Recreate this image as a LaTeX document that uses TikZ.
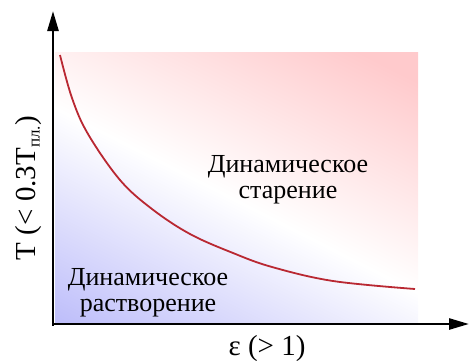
\documentclass[tikz,border=0pt]{standalone}
\usepackage{fontspec}
\setmainfont{Liberation Serif}
\newfontfamily\lserif{Liberation Serif}
\usetikzlibrary{arrows.meta}
\definecolor{pinkc}{RGB}{255,202,204}
\definecolor{bluec}{RGB}{190,190,250}
\definecolor{curvec}{RGB}{185,40,50}
\tikzset{
  axisline/.style={line width=2.6pt, -{Triangle[length=20pt,width=11pt]}},
  regionlabel/.style={align=center, font=\lserif\fontsize{26}{26}\selectfont, inner sep=0pt},
  axislabel/.style={font=\lserif\fontsize{29}{29}\selectfont, inner sep=0pt},
}
\begin{document}
\begin{tikzpicture}[x=1pt,y=1pt]
\useasboundingbox (0,0) rectangle (470,360);
\begin{scope}
  \clip (55,38) rectangle (418,308);
  \shade[top color=pinkc, bottom color=bluec, middle color=white, shading angle=-27] (20,-15) rectangle (450,335);
\end{scope}
\coordinate (o) at (53,36);
\coordinate (ytip) at (53,349);
\coordinate (xtip) at (469,36);
\draw[axisline, line cap=rect] (53,35) -- (ytip);
\draw[axisline] (o) -- (xtip);
\draw[curvec, line width=1.8pt] plot[smooth, tension=0.6] coordinates {(60,305) (72,262) (88,226) (120,180) (152,151) (190,126) (233,107) (272,93) (333,79) (415,71)};
\node[regionlabel] (age) at (288,180) {Динамическое\\старение};
\node[regionlabel] (dis) at (148,67) {Динамическое\\растворение};
\node[axislabel, rotate=90] (ylab) at (29,172) {Т (< 0.3Т$_{\mbox{\lserif\fontsize{17}{17}\selectfont пл.}}$)};
\node[axislabel, anchor=base] (xlab) at (267,5) {ε (> 1)};
\end{tikzpicture}
\end{document}
